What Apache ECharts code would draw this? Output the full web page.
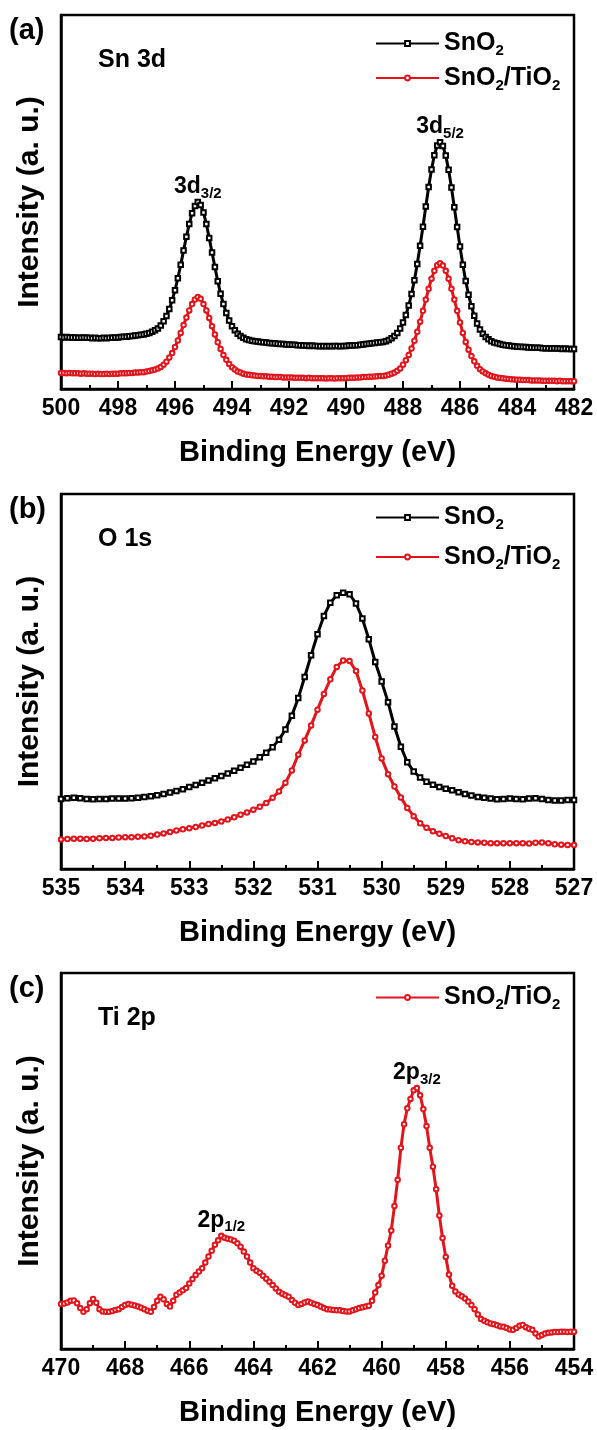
<!DOCTYPE html>
<html>
<head>
<meta charset="utf-8">
<script src="https://cdn.jsdelivr.net/npm/echarts@6/dist/echarts.min.js"></script>
<style>
  html, body { margin: 0; padding: 0; background: #fff; }
  #chart { width: 597px; height: 1430px; }
</style>
</head>
<body>
<div id="chart"></div>
<script>
// ---- Sn 3d region: 500.0 -> 482.0 eV in 0.1 eV steps ----
const sn3dStart = 500.0, sn3dStep = 0.1;
const sn3dSnO2 = [
  13.9, 13.8, 13.9, 13.8, 13.8, 13.8, 13.7, 13.7, 13.8, 13.7,
  13.7, 13.6, 13.7, 13.6, 13.6, 13.7, 13.6, 13.7, 13.7, 13.8,
  13.8, 13.9, 14.0, 14.0, 14.1, 14.2, 14.3, 14.4, 14.5, 14.6,
  14.8, 15.0, 15.3, 15.7, 16.2, 17.0, 18.1, 19.5, 21.4, 23.7,
  26.4, 29.6, 33.2, 37.0, 40.7, 44.1, 47.0, 48.9, 50.0, 49.2,
  47.2, 44.1, 40.4, 36.5, 32.6, 28.8, 25.5, 22.7, 20.3, 18.3,
  16.8, 15.7, 14.8, 14.2, 13.7, 13.3, 13.1, 12.9, 12.8, 12.7,
  12.6, 12.5, 12.4, 12.3, 12.2, 12.2, 12.1, 12.0, 12.0, 11.9,
  11.9, 11.8, 11.8, 11.7, 11.7, 11.6, 11.6, 11.5, 11.6, 11.5,
  11.5, 11.4, 11.5, 11.4, 11.5, 11.4, 11.5, 11.5, 11.4, 11.5,
  11.5, 11.6, 11.6, 11.7, 11.7, 11.8, 11.9, 12.0, 12.1, 12.2,
  12.3, 12.4, 12.5, 12.6, 12.8, 13.1, 13.6, 14.2, 15.0, 16.2,
  17.8, 19.8, 22.3, 25.4, 29.1, 33.4, 38.3, 43.4, 48.8, 54.0,
  58.7, 62.5, 65.1, 66.0, 65.0, 62.4, 58.6, 53.9, 48.6, 43.3,
  38.1, 33.2, 28.9, 25.2, 22.1, 19.6, 17.5, 15.9, 14.8, 13.9,
  13.3, 12.8, 12.4, 12.2, 12.0, 11.8, 11.7, 11.6, 11.5, 11.4,
  11.3, 11.3, 11.2, 11.2, 11.1, 11.1, 11.0, 11.0, 11.0, 10.9,
  10.9, 10.9, 10.8, 10.9, 10.8, 10.8, 10.7, 10.8, 10.7, 10.7,
  10.7
];
const sn3dSnO2TiO2 = [
  4.3, 4.3, 4.2, 4.3, 4.2, 4.2, 4.2, 4.1, 4.2, 4.1,
  4.1, 4.1, 4.0, 4.1, 4.0, 4.0, 4.1, 4.0, 4.1, 4.1,
  4.1, 4.2, 4.2, 4.2, 4.3, 4.3, 4.4, 4.4, 4.5, 4.5,
  4.7, 4.8, 5.0, 5.2, 5.5, 5.9, 6.5, 7.3, 8.4, 9.6,
  11.2, 13.0, 15.0, 17.1, 19.1, 21.0, 22.7, 23.9, 24.6, 24.1,
  22.7, 21.0, 19.0, 16.8, 14.6, 12.5, 10.7, 9.1, 7.8, 6.7,
  5.8, 5.2, 4.7, 4.4, 4.1, 3.9, 3.8, 3.7, 3.6, 3.5,
  3.5, 3.4, 3.4, 3.3, 3.3, 3.2, 3.2, 3.2, 3.1, 3.1,
  3.1, 3.1, 3.0, 3.0, 3.0, 3.0, 2.9, 3.0, 2.9, 2.9,
  2.9, 2.9, 2.9, 2.8, 2.9, 2.9, 2.8, 2.9, 2.9, 2.9,
  2.9, 3.0, 3.0, 3.0, 3.1, 3.1, 3.2, 3.2, 3.3, 3.3,
  3.35, 3.4, 3.45, 3.5, 3.6, 3.8, 4.1, 4.4, 4.9, 5.5,
  6.5, 7.7, 9.1, 10.8, 12.9, 15.3, 18.0, 20.9, 23.9, 26.8,
  29.5, 31.6, 33.1, 33.6, 33.0, 31.6, 29.5, 26.8, 23.9, 20.9,
  17.8, 15.0, 12.6, 10.5, 8.8, 7.4, 6.2, 5.3, 4.7, 4.2,
  3.8, 3.5, 3.3, 3.1, 2.95, 2.85, 2.75, 2.7, 2.6, 2.55,
  2.5, 2.5, 2.4, 2.4, 2.4, 2.3, 2.3, 2.3, 2.3, 2.2,
  2.2, 2.2, 2.2, 2.2, 2.1, 2.2, 2.1, 2.1, 2.1, 2.1,
  2.1
];

// ---- O 1s region: 535.0 -> 527.0 eV in 0.1 eV steps ----
const o1sStart = 535.0, o1sStep = 0.1;
const o1sSnO2 = [
  18.7, 18.9, 19.0, 18.9, 18.7, 18.6, 18.7, 18.7, 18.8, 18.8,
  18.8, 18.9, 19.0, 19.2, 19.4, 19.7, 20.0, 20.4, 20.8, 21.3,
  21.9, 22.4, 23.0, 23.6, 24.2, 24.8, 25.5, 26.2, 27.0, 27.8,
  28.7, 29.8, 31.0, 32.5, 34.5, 37.2, 40.9, 45.6, 51.2, 57.0,
  62.6, 67.5, 71.0, 73.0, 73.7, 73.3, 70.8, 66.8, 61.3, 55.2,
  50.0, 44.5, 38.0, 32.6, 28.5, 26.0, 24.4, 23.3, 22.5, 21.9,
  21.4, 21.0, 20.5, 20.0, 19.6, 19.2, 19.0, 18.8, 18.6, 18.7,
  18.8, 18.7, 18.6, 18.8, 18.9, 18.7, 18.4, 18.3, 18.3, 18.4,
  18.4
];
const o1sSnO2TiO2 = [
  7.9, 8.0, 8.1, 8.1, 8.0, 8.1, 8.2, 8.3, 8.3, 8.4,
  8.5, 8.5, 8.6, 8.7, 8.9, 9.2, 9.5, 9.9, 10.3, 10.6,
  10.9, 11.2, 11.6, 12.0, 12.3, 12.7, 13.2, 13.8, 14.5, 15.1,
  15.8, 16.6, 17.6, 19.0, 20.7, 23.0, 26.3, 30.5, 34.3, 38.3,
  42.5, 46.7, 50.6, 53.9, 55.6, 55.5, 52.8, 47.6, 41.5, 35.2,
  29.5, 25.3, 22.0, 19.1, 16.3, 14.1, 12.2, 11.0, 10.1, 9.4,
  8.8, 8.2, 7.7, 7.4, 7.2, 7.1, 7.0, 6.9, 6.9, 6.9,
  6.9, 6.9, 6.9, 6.8, 7.0, 7.1, 6.9, 6.6, 6.5, 6.4,
  6.4
];

// ---- Ti 2p region: 470.0 -> 454.0 eV in 0.1 eV steps ----
const ti2pStart = 470.0, ti2pStep = 0.1;
const ti2pSnO2TiO2 = [
  12.0, 12.1, 12.4, 12.8, 12.9, 12.2, 10.9, 9.9, 10.6, 12.2,
  13.3, 12.3, 10.6, 10.0, 9.9, 9.9, 10.1, 10.4, 10.6, 11.2,
  11.7, 12.0, 11.8, 11.6, 11.3, 11.0, 10.6, 10.2, 9.9, 11.2,
  12.8, 13.9, 13.2, 12.0, 11.3, 12.8, 14.4, 15.0, 15.6, 16.2,
  17.4, 18.6, 19.7, 20.6, 21.5, 23.0, 24.6, 26.1, 27.7, 28.9,
  30.1, 29.6, 29.3, 29.1, 28.8, 28.1, 27.2, 25.9, 24.6, 23.0,
  21.5, 20.8, 20.3, 19.5, 18.7, 17.9, 17.0, 16.1, 15.2, 14.7,
  14.3, 13.9, 13.0, 12.3, 11.7, 12.0, 12.4, 12.6, 12.3, 12.0,
  11.7, 11.3, 10.9, 10.6, 10.5, 10.4, 10.3, 10.3, 10.1, 10.0,
  10.0, 10.3, 10.6, 10.9, 11.1, 11.3, 11.5, 12.8, 15.0, 17.0,
  19.5, 23.5, 27.5, 31.5, 38.0, 45.0, 53.5, 59.8, 64.0, 66.5,
  68.8, 69.4, 67.5, 63.8, 59.3, 53.5, 48.5, 42.5, 35.5, 29.5,
  24.5, 19.8, 16.8, 15.3, 14.5, 14.0, 13.4, 12.6, 11.7, 10.6,
  9.2, 8.0, 7.5, 7.1, 6.8, 6.6, 6.3, 6.0, 5.9, 5.6,
  5.2, 5.1, 5.6, 6.2, 6.4, 5.8, 5.4, 5.1, 4.1, 3.3,
  3.7, 4.1, 4.3, 4.4, 4.5, 4.5, 4.6, 4.6, 4.5, 4.6,
  4.6
];

// ---- axes, text ----
const panelTags = ['(a)', '(b)', '(c)'];
const coreLevels = ['Sn 3d', 'O 1s', 'Ti 2p'];
const xMins = [482, 527, 454];
const xMaxs = [500, 535, 470];
const xIntervals = [2, 1, 2];
const xTitle = 'Binding Energy (eV)';
const yTitle = 'Intensity (a. u.)';
const NAME_A = 'SnO2';
const NAME_B = 'SnO2/TiO2';

// ---- layout ----
const FONT = "'Liberation Sans', Arial, Helvetica, sans-serif";
const BLACK = '#000000';
const RED = '#e3141b';
const grids = [
  { left: 61, top: 15, width: 513, height: 374 },
  { left: 61, top: 494, width: 513, height: 375 },
  { left: 61, top: 973, width: 513, height: 376 }
];

function toPoints(start, step, values) {
  return values.map((v, i) => [Number((start - i * step).toFixed(2)), v]);
}
// highest point of a curve inside an energy window
function peakIn(points, lo, hi) {
  let best = null;
  points.forEach(p => { if (p[0] >= lo && p[0] <= hi && (!best || p[1] > best[1])) best = p; });
  return best;
}

const snA = toPoints(sn3dStart, sn3dStep, sn3dSnO2);
const snB = toPoints(sn3dStart, sn3dStep, sn3dSnO2TiO2);
const oA = toPoints(o1sStart, o1sStep, o1sSnO2);
const oB = toPoints(o1sStart, o1sStep, o1sSnO2TiO2);
const tiB = toPoints(ti2pStart, ti2pStep, ti2pSnO2TiO2);

const subRich = {
  s: { fontSize: 15, fontWeight: 'bold', fontFamily: FONT, color: BLACK, padding: [15, 0, 0, 0] }
};
const peakRich = {
  s: { fontSize: 15, fontWeight: 'bold', fontFamily: FONT, color: BLACK, padding: [14, 0, 0, 0] }
};

function peakMark(list) {
  return {
    symbol: 'circle', symbolSize: 0, silent: true, animation: false,
    label: {
      show: true, position: 'top', distance: 1, color: BLACK,
      fontSize: 23, fontWeight: 'bold', fontFamily: FONT, rich: peakRich
    },
    data: list.map(d => ({ coord: d.pt, value: d.text, label: { formatter: d.text } }))
  };
}

function curve(name, idx, points, color, symbol, marks) {
  const s = {
    type: 'line', name: name, xAxisIndex: idx, yAxisIndex: idx,
    data: points, symbol: symbol, symbolSize: 4.5, showSymbol: true,
    lineStyle: { color: color, width: 3 },
    itemStyle: { color: color, borderColor: color, borderWidth: 1 },
    emphasis: { disabled: true }, animation: false, z: 3
  };
  if (marks) s.markPoint = peakMark(marks);
  return s;
}

const series = [
  curve(NAME_A, 0, snA, BLACK, 'emptyRect', [
    { pt: peakIn(snA, 490, 500), text: '3d{s|3/2}' },
    { pt: peakIn(snA, 482, 490), text: '3d{s|5/2}' }
  ]),
  curve(NAME_B, 0, snB, RED, 'emptyCircle'),
  curve(NAME_A, 1, oA, BLACK, 'emptyRect'),
  curve(NAME_B, 1, oB, RED, 'emptyCircle'),
  curve(NAME_B, 2, tiB, RED, 'emptyCircle', [
    { pt: peakIn(tiB, 462, 470), text: '2p{s|1/2}' },
    { pt: peakIn(tiB, 454, 462), text: '2p{s|3/2}' }
  ])
];

const xAxes = grids.map((g, i) => ({
  gridIndex: i, type: 'value', inverse: true,
  min: xMins[i], max: xMaxs[i], interval: xIntervals[i],
  axisLine: { show: true, onZero: false, lineStyle: { color: BLACK, width: 2.5 } },
  axisTick: { show: true, inside: true, length: 8, lineStyle: { color: BLACK, width: 2 } },
  minorTick: { show: true, splitNumber: 2, length: 4, lineStyle: { color: BLACK, width: 2 } },
  splitLine: { show: false }, minorSplitLine: { show: false },
  axisLabel: {
    show: true, margin: 8, color: BLACK, fontSize: 23, fontWeight: 'bold', fontFamily: FONT,
    showMinLabel: true, showMaxLabel: true
  },
  name: xTitle, nameLocation: 'middle', nameGap: 49,
  nameTextStyle: { color: BLACK, fontSize: 29, fontWeight: 'bold', fontFamily: FONT }
}));

const yAxes = grids.map((g, i) => ({
  gridIndex: i, type: 'value', min: 0, max: 100,
  axisLine: { show: true, lineStyle: { color: BLACK, width: 2.5 } },
  axisTick: { show: false }, axisLabel: { show: false }, splitLine: { show: false },
  name: yTitle, nameLocation: 'middle', nameGap: 16, nameRotate: 90,
  nameTextStyle: { color: BLACK, fontSize: 30, fontWeight: 'bold', fontFamily: FONT }
}));

function legendFmt(name) {
  return name === NAME_A ? 'SnO{s|2}' : 'SnO{s|2}/TiO{s|2}';
}
const legendBase = {
  orient: 'vertical', left: 370, itemWidth: 63, itemHeight: 6,
  formatter: legendFmt, selectedMode: false,
  textStyle: { color: BLACK, fontSize: 25, fontWeight: 'bold', fontFamily: FONT, rich: subRich }
};
const legends = [
  Object.assign({}, legendBase, { top: 26, itemGap: 7, data: [NAME_A, NAME_B] }),
  Object.assign({}, legendBase, { top: 500, itemGap: 12, data: [NAME_A, NAME_B] }),
  Object.assign({}, legendBase, { top: 980, itemGap: 2, data: [NAME_B] })
];

const textGraphics = [];
grids.forEach((g, i) => {
  textGraphics.push({
    type: 'text', left: 9, top: g.top + 1,
    style: { text: panelTags[i], fill: BLACK, font: 'bold 29px ' + FONT }
  });
  textGraphics.push({
    type: 'text', left: 98, top: g.top + 33,
    style: { text: coreLevels[i], fill: BLACK, font: 'bold 25px ' + FONT }
  });
});

const chart = echarts.init(document.getElementById('chart'), null, { renderer: 'canvas' });
chart.setOption({
  backgroundColor: '#ffffff',
  animation: false,
  grid: grids.map(g => Object.assign({ show: true, borderColor: BLACK, borderWidth: 2.5, backgroundColor: 'transparent' }, g)),
  xAxis: xAxes,
  yAxis: yAxes,
  legend: legends,
  graphic: textGraphics,
  series: series
});
</script>
</body>
</html>
